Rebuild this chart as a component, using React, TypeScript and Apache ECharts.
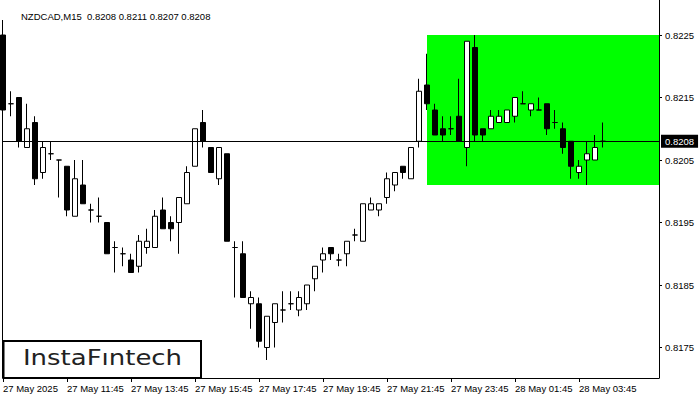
import React, { useEffect, useRef } from "react";
import * as echarts from "echarts";

const chartTitle = "NZDCAD,M15  0.8208 0.8211 0.8207 0.8208";
const tickLabels = [
  "27 May 2025", "27 May 11:45", "27 May 13:45", "27 May 15:45", "27 May 17:45",
  "27 May 19:45", "27 May 21:45", "27 May 23:45", "28 May 01:45", "28 May 03:45",
];
const priceTicks = [0.8175, 0.8185, 0.8195, 0.8205, 0.8215, 0.8225];
const currentPrice = 0.8208;
const zoneHigh = 0.8225;
const zoneLow = 0.8201;
const zoneStart = 53;
const emptySlots = 7;

const opens = [
  0.8225, 0.8214, 0.8215, 0.8207, 0.8211, 0.8203, 0.8206, 0.8205, 0.8204, 0.8196,
  0.8201, 0.8197, 0.8196, 0.8195, 0.8191, 0.8190, 0.8189, 0.8188, 0.8191, 0.8191,
  0.8197, 0.8195, 0.8195, 0.8198, 0.8204, 0.8211, 0.8207, 0.8202, 0.8206, 0.8191,
  0.8190, 0.8182, 0.8182, 0.8175, 0.8179, 0.8181, 0.8182, 0.8181, 0.8182, 0.8186,
  0.8189, 0.8191, 0.8189, 0.8190, 0.8193, 0.8192, 0.8197, 0.8197, 0.8199, 0.8201,
  0.8204, 0.8202, 0.8208, 0.8217, 0.8213, 0.8210, 0.8210, 0.8212, 0.8207, 0.8223,
  0.8210, 0.8210, 0.8211, 0.8211, 0.8212, 0.8214, 0.8213, 0.8213, 0.8214, 0.8211,
  0.8210, 0.8208, 0.8203, 0.8205, 0.8205, 0.8208,
];
const highs = [
  0.82274, 0.8216, 0.8215, 0.8214, 0.8212, 0.8208, 0.8208, 0.8205, 0.8204, 0.8205,
  0.8205, 0.8198, 0.8199, 0.8195, 0.8192, 0.8191, 0.8190, 0.8193, 0.8194, 0.8197,
  0.8199, 0.8196, 0.8199, 0.8204, 0.8210, 0.8213, 0.8207, 0.8207, 0.8206, 0.8192,
  0.8192, 0.8184, 0.8183, 0.8180, 0.8182, 0.8184, 0.8184, 0.8184, 0.8185, 0.8188,
  0.8191, 0.8191, 0.8190, 0.8192, 0.8194, 0.8198, 0.8199, 0.8198, 0.8203, 0.8203,
  0.8204, 0.8207, 0.8218, 0.8222, 0.8214, 0.8212, 0.8212, 0.8218, 0.8224, 0.8225,
  0.8210, 0.8213, 0.8213, 0.8213, 0.8215, 0.8216, 0.8214, 0.8215, 0.8214, 0.8213,
  0.8211, 0.8208, 0.8205, 0.8208, 0.8209, 0.8211,
];
const lows = [
  0.8212, 0.8212, 0.8207, 0.8207, 0.8201, 0.8202, 0.8205, 0.8199, 0.8196, 0.8196,
  0.8198, 0.8195, 0.8195, 0.8190, 0.8187, 0.8188, 0.8187, 0.8187, 0.8190, 0.8191,
  0.8194, 0.8192, 0.8190, 0.8198, 0.8204, 0.8207, 0.8203, 0.8201, 0.8192, 0.8183,
  0.8183, 0.8178, 0.8175, 0.8173, 0.8175, 0.8179, 0.8181, 0.8180, 0.8181, 0.8184,
  0.8187, 0.8189, 0.8188, 0.8188, 0.8192, 0.8192, 0.8197, 0.8196, 0.8198, 0.8200,
  0.8202, 0.8202, 0.8207, 0.8213, 0.8209, 0.8208, 0.8209, 0.8208, 0.8204, 0.8208,
  0.8208, 0.8210, 0.8211, 0.8211, 0.8211, 0.8214, 0.8212, 0.8213, 0.8209, 0.8210,
  0.8206, 0.8202, 0.8202, 0.8201, 0.8205, 0.8207,
];
const closes = [
  0.8213, 0.8214, 0.8208, 0.8210, 0.8202, 0.8207, 0.8206, 0.8205, 0.8197, 0.8202,
  0.8198, 0.8197, 0.8196, 0.8190, 0.8191, 0.8190, 0.8187, 0.8192, 0.8192, 0.8196,
  0.8194, 0.8194, 0.8199, 0.8203, 0.8210, 0.8208, 0.8203, 0.8207, 0.8192, 0.8191,
  0.8183, 0.8183, 0.8176, 0.8180, 0.8182, 0.8181, 0.8182, 0.8183, 0.8185, 0.8188,
  0.8190, 0.8190, 0.8189, 0.8192, 0.8193, 0.8198, 0.8198, 0.8198, 0.8202, 0.8203,
  0.8203, 0.8207, 0.8216, 0.8214, 0.8209, 0.8209, 0.8210, 0.8208, 0.8224, 0.8209,
  0.8209, 0.8212, 0.8212, 0.8213, 0.8215, 0.8214, 0.8214, 0.8213, 0.8210, 0.8211,
  0.8207, 0.8204, 0.8204, 0.8206, 0.8207, 0.8208,
];

const FONT = "'Liberation Sans', Arial, sans-serif";

export default function App() {
  const ref = useRef<HTMLDivElement>(null);

  useEffect(() => {
    if (!ref.current) return;
    const chart = echarts.init(ref.current, null, { renderer: "svg" });
    const total = opens.length + emptySlots;
    const categories: string[] = [];
    for (let i = 0; i < total; i++) {
      const k = i / 8;
      categories.push(i % 8 === 0 && k < tickLabels.length ? tickLabels[k] : "s" + i);
    }
    const showTick = (index: number) => index % 8 === 0 && index / 8 < tickLabels.length;
    const candles = opens.map((o, i) => [o, closes[i], lows[i], highs[i]]);

    chart.setOption({
      animation: false,
      title: {
        text: chartTitle,
        left: 16,
        top: 6,
        textStyle: { fontSize: 9.5, fontWeight: "normal", color: "#000", fontFamily: FONT },
      },
      grid: { left: 3, right: 41, top: 0, bottom: 22, containLabel: false },
      xAxis: {
        type: "category",
        data: categories,
        boundaryGap: false,
        axisLine: { show: true, lineStyle: { color: "#000", width: 1 } },
        axisTick: { show: true, interval: showTick, length: 4, lineStyle: { color: "#000" } },
        axisLabel: {
          show: true,
          interval: showTick,
          align: "left",
          margin: 5,
          fontSize: 9.5,
          color: "#000",
          fontFamily: FONT,
        },
        splitLine: { show: false },
      },
      yAxis: {
        type: "value",
        position: "right",
        min: 0.817012,
        max: 0.82306,
        axisLine: { show: true, lineStyle: { color: "#000", width: 1 } },
        axisTick: { show: true, length: 3, customValues: priceTicks, lineStyle: { color: "#000" } },
        axisLabel: {
          show: true,
          customValues: priceTicks,
          formatter: (v: number) => v.toFixed(4),
          margin: 6,
          fontSize: 9.5,
          color: "#000",
          fontFamily: FONT,
        },
        splitLine: { show: false },
      },
      series: [
        {
          type: "line",
          data: [],
          z: 1,
          silent: true,
          markArea: {
            silent: true,
            itemStyle: { color: "#00ff00", opacity: 1 },
            label: { show: false },
            data: [[
              { xAxis: categories[zoneStart], yAxis: zoneHigh },
              { xAxis: categories[total - 1], yAxis: zoneLow },
            ]],
          },
        },
        {
          type: "candlestick",
          data: candles,
          z: 3,
          barWidth: 5,
          itemStyle: {
            color: "#ffffff",
            color0: "#000000",
            borderColor: "#000000",
            borderColor0: "#000000",
            borderColorDoji: "#000000",
            borderWidth: 1,
          },
          markLine: {
            silent: true,
            precision: 4,
            symbol: ["none", "none"],
            lineStyle: { color: "#000", width: 1, type: "solid" },
            label: {
              show: true,
              position: "end",
              distance: 2,
              formatter: currentPrice.toFixed(4),
              color: "#fff",
              backgroundColor: "#000",
              padding: [2, 4, 1, 4],
              fontSize: 9.5,
              fontFamily: FONT,
            },
            data: [{ yAxis: currentPrice }],
          },
        },
      ],
      graphic: [
        {
          type: "line",
          silent: true,
          z: 10,
          shape: { x1: 2.5, y1: 20, x2: 2.5, y2: 378 },
          style: { stroke: "#000", lineWidth: 1 },
        },
        {
          type: "rect",
          silent: true,
          z: 20,
          shape: { x: 3.5, y: 341, width: 197.5, height: 37 },
          style: { fill: "#fff", stroke: "#000", lineWidth: 2 },
        },
        {
          type: "text",
          silent: true,
          z: 21,
          x: 102.5,
          y: 357.5,
          scaleX: 1.18,
          style: {
            text: "InstaF\u0131ntech",
            x: 0,
            y: 0,
            align: "center",
            verticalAlign: "middle",
            fill: "#222",
            font: "normal 22px 'DejaVu Sans', sans-serif",
          },
        },
      ],
    });
    return () => chart.dispose();
  }, []);

  return (
    <div
      ref={ref}
      style={{ position: "fixed", left: 0, top: 0, width: 700, height: 400, background: "#fff" }}
    />
  );
}
